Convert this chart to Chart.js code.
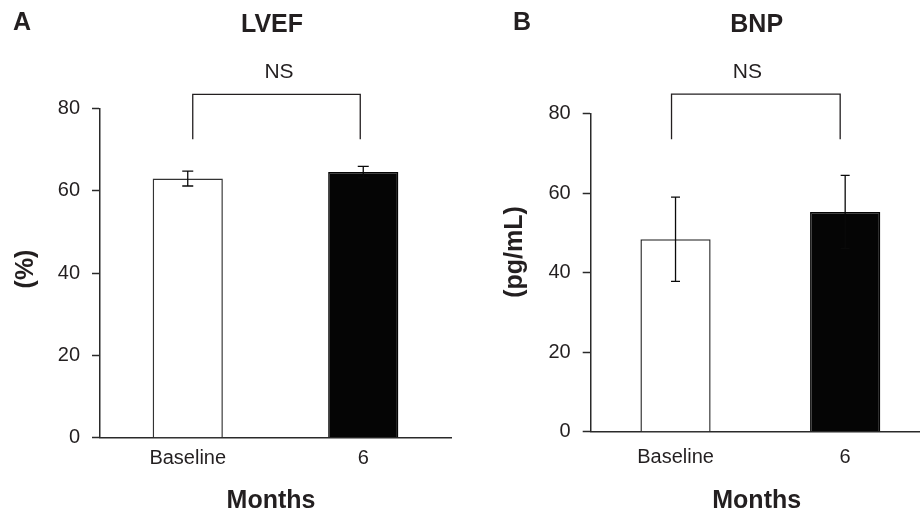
<!DOCTYPE html>
<html><head><meta charset="utf-8">
<script src="https://cdn.jsdelivr.net/npm/chart.js@4"></script>
<style>
html,body{margin:0;padding:0;background:#fff;overflow:hidden;width:920px;height:512px;position:relative;}
#a{position:absolute;left:0;top:0;width:460px;height:512px;}
#b{position:absolute;left:460px;top:0;width:480px;height:512px;}
</style></head><body>
<canvas id="a" width="460" height="512"></canvas>
<canvas id="b" width="480" height="512"></canvas>
<script>
// ---- data ----
const categories = ['Baseline', '6'];
const lvefMean = [63.0, 64.6];
const lvefErr = [1.8, 1.4];
const bnpMean = [48.4, 55.3];
const bnpErr = [10.6, 9.2];
const yTicks = [0, 20, 40, 60, 80];
const barFills = ['#ffffff', '#050505'];
const barEdges = ['#333333', '#050505'];

const INK = '#231f20';
const AXIS = '#2a2a2a';
const FONT = '"Liberation Sans", Arial, Helvetica, sans-serif';

const panelPlugin = {
  id: 'panel',
  afterDatasetsDraw(chart, args, o) {
    const ctx = chart.ctx;
    const meta = chart.getDatasetMeta(0);
    const y = chart.scales.y;
    ctx.save();
    ctx.strokeStyle = '#0a0a0a'; ctx.lineWidth = 1.3;
    meta.data.forEach((bar, i) => {
      const x = bar.x;
      const m = o.mean[i], e = o.err[i];
      const yt = y.getPixelForValue(m + e), yb = y.getPixelForValue(m - e);
      ctx.beginPath();
      ctx.moveTo(x, yt); ctx.lineTo(x, yb);
      ctx.moveTo(x - o.cap, yt); ctx.lineTo(x + o.cap, yt);
      ctx.moveTo(x - o.cap, yb); ctx.lineTo(x + o.cap, yb);
      ctx.stroke();
    });
    // significance bracket
    ctx.strokeStyle = INK;
    const x1 = meta.data[0].x + o.bracketDx[0], x2 = meta.data[1].x + o.bracketDx[1];
    const yh = y.getPixelForValue(o.bracketTop), yl = y.getPixelForValue(o.bracketLeg);
    ctx.lineWidth = 1.3;
    ctx.beginPath();
    ctx.moveTo(x1, yl); ctx.lineTo(x1, yh); ctx.lineTo(x2, yh); ctx.lineTo(x2, yl);
    ctx.stroke();
    ctx.fillStyle = INK;
    ctx.textBaseline = 'alphabetic';
    ctx.textAlign = 'center';
    ctx.font = '21px ' + FONT;
    ctx.fillText(o.sig, o.sigX, o.sigY);
    // titles
    ctx.font = 'bold 25px ' + FONT;
    ctx.fillText(o.title, o.titleX, 31.5);
    ctx.fillText(o.xTitle, o.xTitleX, o.xTitleY);
    ctx.textAlign = 'left';
    ctx.fillText(o.letter, o.letterX, 30);
    // rotated y title
    ctx.translate(o.yTitleX, o.yTitleY);
    ctx.rotate(-Math.PI / 2);
    ctx.textAlign = 'center';
    ctx.fillText(o.yTitle, 0, 0);
    ctx.restore();
  }
};

function makeChart(id, mean, err, cfg) {
  return new Chart(document.getElementById(id), {
    type: 'bar',
    data: {
      labels: categories,
      datasets: [{
        data: mean,
        backgroundColor: barFills,
        borderColor: barEdges,
        borderWidth: 1.5,
        barPercentage: cfg.barPct,
        categoryPercentage: 1
      }]
    },
    options: {
      responsive: false,
      animation: false,
      devicePixelRatio: 1,
      layout: { padding: cfg.padding },
      plugins: {
        legend: { display: false },
        tooltip: { enabled: false },
        title: { display: false },
        panel: Object.assign({ mean: mean, err: err }, cfg.annot)
      },
      scales: {
        x: {
          offset: true,
          grid: { display: false, drawTicks: false },
          border: { display: true, color: AXIS, width: 1.5 },
          ticks: { color: INK, font: { family: FONT, size: 20 }, padding: cfg.xPad, maxRotation: 0 },
          afterFit: s => { s.height = cfg.xHeight; }
        },
        y: {
          min: 0, max: 80,
          afterBuildTicks: s => { s.ticks = yTicks.map(v => ({ value: v })); },
          grid: { display: true, drawOnChartArea: false, tickLength: 8, tickWidth: 1.5, tickColor: AXIS },
          border: { display: true, color: AXIS, width: 1.5 },
          ticks: { color: INK, font: { family: FONT, size: 20 }, padding: 12 },
          afterFit: s => { s.width = cfg.yWidth; }
        }
      }
    },
    plugins: [panelPlugin]
  });
}

makeChart('a', lvefMean, lvefErr, {
  barPct: 0.4,
  padding: { top: 108.7, right: 9, left: 0, bottom: 0 },
  xHeight: 74.3, yWidth: 100, xPad: 9,
  annot: {
    cap: 5.5, bracketDx: [5, -3], bracketTop: 83.5, bracketLeg: 72.6,
    sig: 'NS', sigX: 279, sigY: 78.3,
    title: 'LVEF', titleX: 272,
    xTitle: 'Months', xTitleX: 271, xTitleY: 507.7,
    letter: 'A', letterX: 13,
    yTitle: '(%)', yTitleX: 33, yTitleY: 269
  }
});

makeChart('b', bnpMean, bnpErr, {
  barPct: 0.414,
  padding: { top: 113.7, right: 10, left: 0, bottom: 0 },
  xHeight: 80.3, yWidth: 130.7, xPad: 14,
  annot: {
    cap: 4.5, bracketDx: [-4, -5], bracketTop: 84.9, bracketLeg: 73.6,
    sig: 'NS', sigX: 287.3, sigY: 78.3,
    title: 'BNP', titleX: 296.7,
    xTitle: 'Months', xTitleX: 296.7, xTitleY: 508.3,
    letter: 'B', letterX: 53,
    yTitle: '(pg/mL)', yTitleX: 61.5, yTitleY: 252
  }
});
</script>
</body></html>
